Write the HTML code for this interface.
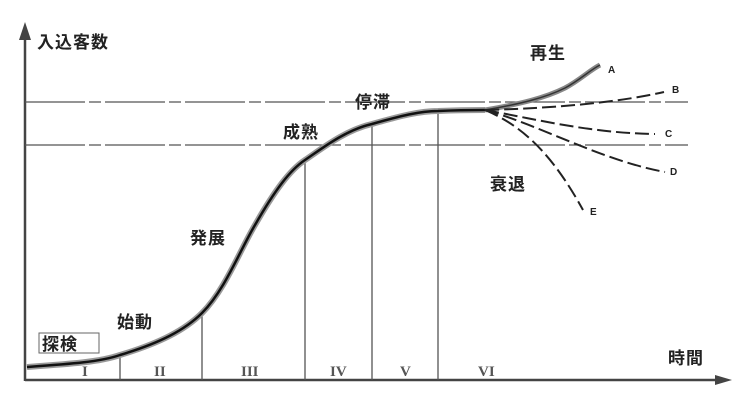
<!DOCTYPE html>
<html><head><meta charset="utf-8"><style>
body{margin:0;background:#fff;width:748px;height:400px;overflow:hidden}
svg{display:block}
text{font-family:"Liberation Sans","Noto Sans CJK JP",sans-serif;fill:#222}
.j{font-size:17px;font-weight:bold;letter-spacing:1px}
.r{font-family:"Liberation Serif",serif;font-size:15px;font-weight:bold;fill:#555}
.l{font-size:10px;font-weight:bold}
</style></head><body>
<svg width="748" height="400" viewBox="0 0 748 400">
<line x1="25" y1="381" x2="25" y2="36" stroke="#444" stroke-width="2.5"/>
<polygon points="19,40 25,22 31,40" fill="#444"/>
<line x1="25" y1="380" x2="725" y2="380" stroke="#444" stroke-width="2.5"/>
<polygon points="715,375 732,380 715,385" fill="#444"/>
<line x1="25" y1="102" x2="688" y2="102" stroke="#555" stroke-width="1.2" stroke-dasharray="60,4,12,4"/>
<line x1="25" y1="145" x2="688" y2="145" stroke="#555" stroke-width="1.2" stroke-dasharray="60,4,12,4"/>
<g stroke="#555" stroke-width="1.3">
<line x1="120" y1="380" x2="120" y2="355"/>
<line x1="202" y1="380" x2="202" y2="313"/>
<line x1="305" y1="380" x2="305" y2="160"/>
<line x1="372" y1="380" x2="372" y2="125"/>
<line x1="438" y1="380" x2="438" y2="111"/>
</g>
<path d="M27,367 C70,364 100,362 120,355 C160,343 185,330 202,313 C225,290 240,250 255,225 C275,190 290,170 305,160 C320,150 345,130 372,124 C400,116 420,111 438,111 C460,110 475,110 485,110" fill="none" stroke="#999" stroke-width="6"/>
<path d="M27,367 C70,364 100,362 120,355 C160,343 185,330 202,313 C225,290 240,250 255,225 C275,190 290,170 305,160 C320,150 345,130 372,124 C400,116 420,111 438,111 C460,110 475,110 485,110" fill="none" stroke="#111" stroke-width="2.5"/>
<path d="M485,110 C520,104 545,98 565,88 C580,80 590,70 600,65" fill="none" stroke="#888" stroke-width="5"/>
<path d="M485,110 C520,104 545,98 565,88 C580,80 590,70 600,65" fill="none" stroke="#333" stroke-width="1.5"/>
<g fill="none" stroke="#222" stroke-width="2" stroke-dasharray="14,5">
<path d="M485,110 C560,108 620,102 664,92"/>
<path d="M485,110 C540,120 590,133 655,134"/>
<path d="M485,110 C540,125 600,160 665,172"/>
<path d="M485,110 C520,125 550,150 583,210"/>
</g>
<text class="j" x="37" y="48">入込客数</text>
<text class="j" x="530" y="59">再生</text>
<text class="j" x="355" y="108">停滞</text>
<text class="j" x="283" y="138">成熟</text>
<text class="j" x="190" y="244">発展</text>
<text class="j" x="117" y="328">始動</text>
<rect x="39" y="333" width="60" height="20" fill="none" stroke="#666" stroke-width="1"/>
<text class="j" x="42" y="350">探検</text>
<text class="j" x="668" y="364">時間</text>
<text class="j" x="490" y="190">衰退</text>
<text class="l" x="608" y="73">A</text>
<text class="l" x="672" y="93">B</text>
<text class="l" x="665" y="137">C</text>
<text class="l" x="670" y="175">D</text>
<text class="l" x="590" y="215">E</text>
<text class="r" x="82" y="376">I</text>
<text class="r" x="154" y="376">II</text>
<text class="r" x="241" y="376">III</text>
<text class="r" x="330" y="376">IV</text>
<text class="r" x="400" y="376">V</text>
<text class="r" x="478" y="376">VI</text>
</svg>
</body></html>
